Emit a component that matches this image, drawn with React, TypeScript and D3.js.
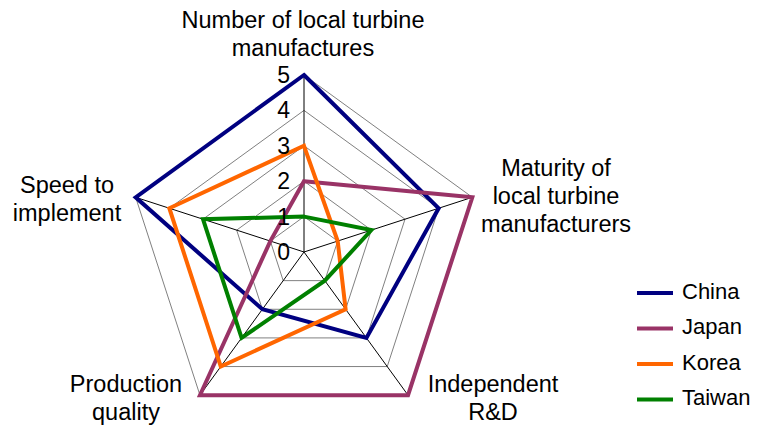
import React, { useEffect, useRef } from "react";
import * as d3 from "d3";

const axes = [
  ["Number of local turbine", "manufactures"],
  ["Maturity of", "local turbine", "manufacturers"],
  ["Independent", "R&D"],
  ["Production", "quality"],
  ["Speed to", "implement"],
];
const ticks = [0, 1, 2, 3, 4, 5];
const seriesNames = ["China", "Japan", "Korea", "Taiwan"];
const china = [5, 4, 3, 2, 5];
const japan = [2, 5, 5, 5, 1];
const korea = [3, 1, 2, 4, 4];
const taiwan = [1, 2, 1, 3, 3];
const colors = ["#000080", "#993366", "#FF6600", "#008000"];

// label anchor positions (x, first baseline) per axis
const labelPos: [number, number][] = [
  [303, 28],
  [556, 176],
  [493, 392],
  [126, 392],
  [67, 193],
];

function App() {
  const ref = useRef<SVGSVGElement | null>(null);

  useEffect(() => {
    const svg = d3.select(ref.current);
    svg.selectAll("*").remove();
    const cx = 304;
    const cy = 252;
    const r = d3.scaleLinear().domain([0, 5]).range([0, 177]);
    const angle = (i: number) => (2 * Math.PI * i) / axes.length;
    const pt = (i: number, v: number): [number, number] => [
      cx + Math.sin(angle(i)) * r(v),
      cy - Math.cos(angle(i)) * r(v),
    ];
    const font = "'Liberation Sans', Arial, sans-serif";
    const line = d3.line<[number, number]>().curve(d3.curveLinearClosed);

    // rings
    ticks.slice(1).forEach((t) => {
      svg
        .append("path")
        .attr("d", line(axes.map((_, i) => pt(i, t))))
        .attr("fill", "none")
        .attr("stroke", "#808080")
        .attr("stroke-width", 1);
    });

    // spokes
    axes.forEach((_, i) => {
      const [x, y] = pt(i, 5);
      svg
        .append("line")
        .attr("x1", cx)
        .attr("y1", cy)
        .attr("x2", x)
        .attr("y2", y)
        .attr("stroke", "#000")
        .attr("stroke-width", 1);
    });

    // series
    const data = [china, japan, korea, taiwan];
    data.forEach((d, s) => {
      svg
        .append("path")
        .attr("d", line(d.map((v, i) => pt(i, v))))
        .attr("fill", "none")
        .attr("stroke", colors[s])
        .attr("stroke-width", 4)
        .attr("stroke-linejoin", "miter");
    });

    // tick labels
    ticks.forEach((t) => {
      svg
        .append("text")
        .attr("x", cx - 14)
        .attr("y", cy - r(t) + 2)
        .attr("text-anchor", "end")
        .attr("dominant-baseline", "middle")
        .attr("font-family", font)
        .attr("font-size", 23)
        .attr("fill", "#000")
        .text(t);
    });

    // axis labels
    axes.forEach((lines, i) => {
      const [x, y] = labelPos[i];
      const txt = svg
        .append("text")
        .attr("text-anchor", "middle")
        .attr("font-family", font)
        .attr("font-size", 23.5)
        .attr("fill", "#000");
      lines.forEach((l, k) => {
        txt
          .append("tspan")
          .attr("x", x)
          .attr("y", y + k * 28)
          .text(l);
      });
    });

    // legend
    seriesNames.forEach((n, s) => {
      const y = 293 + s * 35.5;
      svg
        .append("line")
        .attr("x1", 637)
        .attr("x2", 673)
        .attr("y1", y)
        .attr("y2", y)
        .attr("stroke", colors[s])
        .attr("stroke-width", 4);
      svg
        .append("text")
        .attr("x", 682)
        .attr("y", y)
        .attr("dominant-baseline", "middle")
        .attr("font-family", font)
        .attr("font-size", 22)
        .attr("fill", "#000")
        .text(n);
    });
  }, []);

  return (
    <svg
      ref={ref}
      width={761}
      height={429}
      style={{ position: "absolute", left: 0, top: 0, background: "#fff" }}
    />
  );
}

export default App;
